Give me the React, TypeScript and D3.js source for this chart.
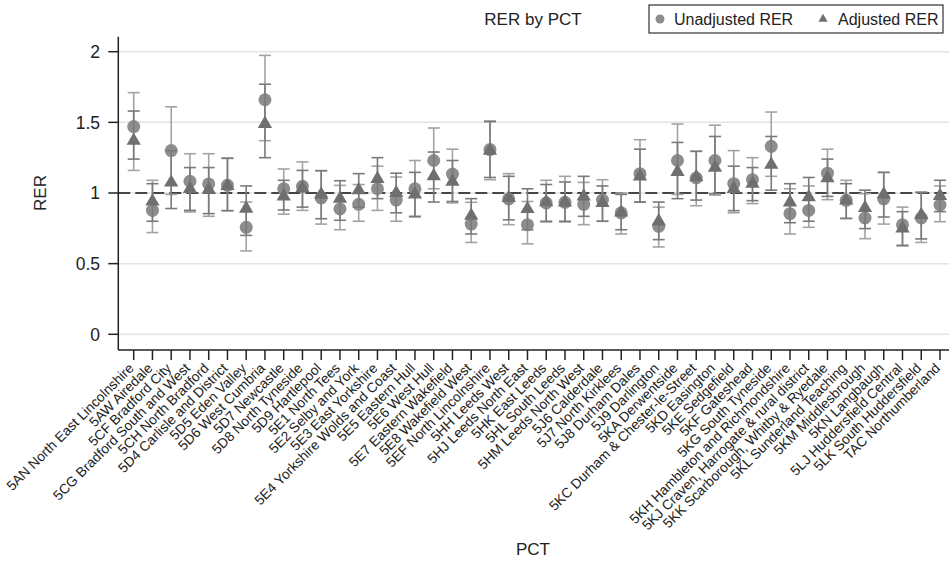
import React from "react";
import * as d3 from "d3";

const categories = [
  "5AN North East Lincolnshire", "5AW Airedale", "5CF Bradford City", "5CG Bradford South and West",
  "5CH North Bradford", "5D4 Carlisle and District", "5D5 Eden Valley", "5D6 West Cumbria",
  "5D7 Newcastle", "5D8 North Tyneside", "5D9 Hartlepool", "5E1 North Tees", "5E2 Selby and York",
  "5E3 East Yorkshire", "5E4 Yorkshire Wolds and Coast", "5E5 Eastern Hull", "5E6 West Hull",
  "5E7 Eastern Wakefield", "5E8 Wakefield West", "5EF North Lincolnshire", "5HH Leeds West",
  "5HJ Leeds North East", "5HK East Leeds", "5HL South Leeds", "5HM Leeds North West",
  "5J6 Calderdale", "5J7 North Kirklees", "5J8 Durham Dales", "5J9 Darlington", "5KA Derwentside",
  "5KC Durham & Chester-le-Street", "5KD Easington", "5KE Sedgefield", "5KF Gateshead",
  "5KG South Tyneside", "5KH Hambleton and Richmondshire", "5KJ Craven, Harrogate & rural district",
  "5KK Scarborough, Whitby & Ryedale", "5KL Sunderland Teaching", "5KM Middlesbrough",
  "5KN Langbaugh", "5LJ Huddersfield Central", "5LK South Huddersfield", "TAC Northumberland",
];

const unadjusted = [1.47, 0.877, 1.30, 1.083, 1.064, 1.054, 0.757, 1.66, 1.03, 1.047, 0.965, 0.887, 0.92, 1.03, 0.95, 1.03, 1.23, 1.134, 0.78, 1.307, 0.958, 0.776, 0.93, 0.934, 0.92, 0.95, 0.86, 1.137, 0.764, 1.23, 1.106, 1.23, 1.066, 1.094, 1.33, 0.854, 0.877, 1.14, 0.948, 0.823, 0.958, 0.775, 0.823, 0.915];
const unadjLow = [1.16, 0.72, 0.99, 0.866, 0.835, 0.875, 0.59, 1.37, 0.85, 0.877, 0.78, 0.74, 0.80, 0.877, 0.80, 0.83, 1.03, 0.93, 0.65, 1.094, 0.776, 0.64, 0.795, 0.795, 0.776, 0.80, 0.71, 0.936, 0.618, 0.99, 0.91, 0.985, 0.86, 0.925, 1.118, 0.71, 0.757, 0.953, 0.82, 0.677, 0.78, 0.625, 0.65, 0.797];
const unadjHigh = [1.71, 1.09, 1.61, 1.278, 1.278, 1.248, 0.936, 1.974, 1.17, 1.22, 1.158, 1.054, 1.06, 1.19, 1.113, 1.23, 1.46, 1.31, 0.934, 1.51, 1.137, 0.94, 1.09, 1.118, 1.075, 1.094, 1.0, 1.377, 0.90, 1.488, 1.295, 1.48, 1.30, 1.25, 1.573, 1.03, 1.05, 1.31, 1.09, 0.995, 1.146, 0.90, 1.005, 1.05];
const adjusted = [1.37, 0.94, 1.075, 1.03, 1.024, 1.05, 0.89, 1.49, 0.976, 1.035, 0.99, 0.96, 1.02, 1.10, 1.0, 0.99, 1.12, 1.08, 0.84, 1.30, 0.965, 0.887, 0.936, 0.934, 0.976, 0.93, 0.863, 1.118, 0.80, 1.15, 1.113, 1.18, 1.03, 1.066, 1.20, 0.934, 0.97, 1.106, 0.948, 0.894, 0.99, 0.75, 0.845, 0.98];
const adjLow = [1.24, 0.80, 0.89, 0.877, 0.854, 0.875, 0.70, 1.25, 0.88, 0.90, 0.818, 0.807, 0.90, 0.96, 0.86, 0.835, 0.936, 0.94, 0.71, 1.11, 0.81, 0.74, 0.80, 0.80, 0.835, 0.80, 0.74, 0.936, 0.67, 0.96, 0.95, 0.995, 0.875, 0.946, 1.02, 0.79, 0.80, 0.976, 0.82, 0.748, 0.83, 0.63, 0.675, 0.868];
const adjHigh = [1.58, 1.066, 1.30, 1.18, 1.18, 1.245, 1.05, 1.77, 1.09, 1.16, 1.158, 1.087, 1.137, 1.25, 1.14, 1.146, 1.29, 1.23, 0.96, 1.505, 1.118, 1.03, 1.06, 1.078, 1.118, 1.05, 0.99, 1.31, 0.936, 1.358, 1.295, 1.40, 1.19, 1.18, 1.40, 1.066, 1.11, 1.24, 1.066, 1.02, 1.146, 0.868, 1.005, 1.09];

const yTicks = [0, 0.5, 1, 1.5, 2];

const W = 949, H = 569;
const FONT = "'Liberation Sans', Arial, Helvetica, sans-serif";

export default function App() {
  const x = d3.scalePoint<string>().domain(categories).range([133.7, 940]);
  const y = d3.scaleLinear().domain([0, 2]).range([334.3, 51.7]);
  const axisLeft = 118.3;
  const axisBottom = 350;
  const axisTop = 36.7;
  const capW = 6;
  const tri = d3.symbol().type(d3.symbolTriangle).size(88)() as string;
  const triSmall = d3.symbol().type(d3.symbolTriangle).size(36)() as string;

  const uColor = "#a3a3a3";
  const aColor = "#7a7a7a";
  const circleFill = "#8d8d8d";
  const triFill = "#6f6f6f";

  const bar = (cx: number, lo: number, hi: number, color: string, key: string) => (
    <g key={key} stroke={color} strokeWidth={1.6} fill="none">
      <line x1={cx} x2={cx} y1={y(lo)} y2={y(hi)} />
      <line x1={cx - capW} x2={cx + capW} y1={y(lo)} y2={y(lo)} />
      <line x1={cx - capW} x2={cx + capW} y1={y(hi)} y2={y(hi)} />
    </g>
  );

  return (
    <svg width={W} height={H} style={{ position: "absolute", left: 0, top: 0, background: "#fff" }} fontFamily={FONT}>
      <rect x={0} y={0} width={W} height={H} fill="#fff" />
      {yTicks.map((t) => (
        <line key={"g" + t} x1={axisLeft} x2={W} y1={y(t)} y2={y(t)} stroke="#e4e4e4" strokeWidth={1.5} />
      ))}
      <line x1={axisLeft} x2={W} y1={y(1)} y2={y(1)} stroke="#111" strokeWidth={1.6} strokeDasharray="12,5" />

      {categories.map((c, i) => bar(x(c)!, unadjLow[i], unadjHigh[i], uColor, "u" + i))}
      {categories.map((c, i) => (
        <circle key={"c" + i} cx={x(c)!} cy={y(unadjusted[i])} r={6.5} fill={circleFill} />
      ))}
      {categories.map((c, i) => bar(x(c)!, adjLow[i], adjHigh[i], aColor, "a" + i))}
      {categories.map((c, i) => (
        <path key={"t" + i} d={tri} transform={`translate(${x(c)},${y(adjusted[i])})`} fill={triFill} />
      ))}

      <line x1={axisLeft} x2={axisLeft} y1={axisTop} y2={axisBottom} stroke="#222" strokeWidth={1.5} />
      {yTicks.map((t) => (
        <g key={"yt" + t}>
          <line x1={axisLeft - 10} x2={axisLeft} y1={y(t)} y2={y(t)} stroke="#222" strokeWidth={1.5} />
          <text x={100} y={y(t)} dy="0.36em" textAnchor="end" fontSize={17.5} fill="#222">
            {String(t)}
          </text>
        </g>
      ))}
      <line x1={axisLeft} x2={W} y1={axisBottom} y2={axisBottom} stroke="#222" strokeWidth={1.5} />
      {categories.map((c) => (
        <g key={"xt" + c}>
          <line x1={x(c)!} x2={x(c)!} y1={axisBottom} y2={axisBottom + 10} stroke="#222" strokeWidth={1.5} />
          <text
            transform={`translate(${x(c)! + 1},${axisBottom + 19}) rotate(-45)`}
            textAnchor="end"
            fontSize={13.8}
            fill="#222"
          >
            {c}
          </text>
        </g>
      ))}

      <text x={533} y={25} textAnchor="middle" fontSize={17} fill="#222">RER by PCT</text>
      <text x={533} y={555} textAnchor="middle" fontSize={17} fill="#222">PCT</text>
      <text transform={`translate(46,193) rotate(-90)`} textAnchor="middle" fontSize={17} fill="#222">RER</text>

      <rect x={649} y={5} width={294} height={28} fill="#fff" stroke="#333" strokeWidth={1.2} />
      <circle cx={660} cy={19} r={4.5} fill={circleFill} />
      <text x={674} y={25} fontSize={16} fill="#222">Unadjusted RER</text>
      <path d={triSmall} transform="translate(823,19)" fill={triFill} />
      <text x={838} y={25} fontSize={16} fill="#222">Adjusted RER</text>
    </svg>
  );
}
